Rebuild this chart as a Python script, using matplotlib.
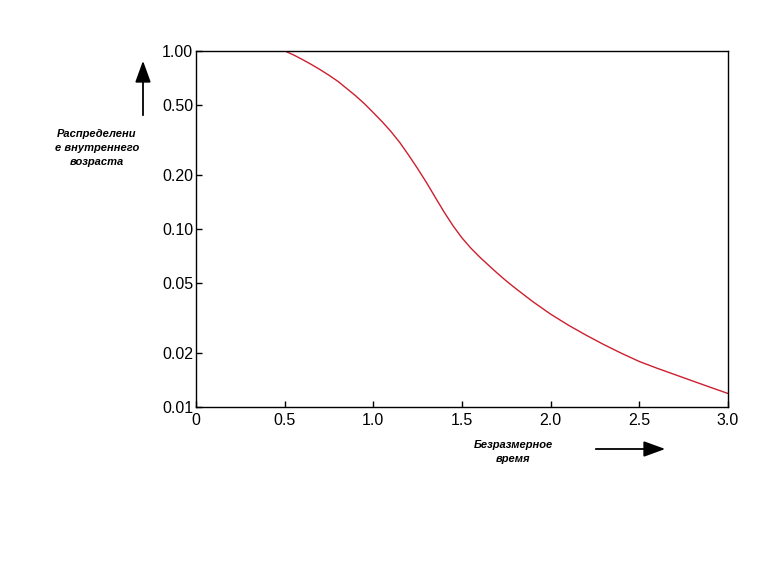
import matplotlib
matplotlib.use("Agg")
import matplotlib.pyplot as plt
from matplotlib.ticker import FixedLocator, NullLocator

plt.rcParams['font.family'] = ['Liberation Sans', 'DejaVu Sans']

# dimensionless time and internal age distribution
t = [0.5, 0.55, 0.6, 0.65, 0.7, 0.75, 0.8, 0.85, 0.9, 0.95, 1.0,
     1.05, 1.1, 1.15, 1.2, 1.25, 1.3, 1.35, 1.4, 1.45, 1.5,
     1.55, 1.6, 1.65, 1.7, 1.75, 1.8, 1.9, 2.0, 2.1, 2.2,
     2.3, 2.4, 2.5, 2.6, 2.7, 2.8, 2.9, 3.0]
age = [1.0, 0.95, 0.895, 0.84, 0.785, 0.73, 0.675, 0.615, 0.56, 0.505, 0.45,
       0.40, 0.352, 0.305, 0.259, 0.218, 0.182, 0.150, 0.124, 0.104, 0.089,
       0.078, 0.0695, 0.0625, 0.0563, 0.0510, 0.0465, 0.0390, 0.0332, 0.0288, 0.0253,
       0.0224, 0.0200, 0.0180, 0.0165, 0.0152, 0.0140, 0.0129, 0.0119]

yticks = [1.0, 0.5, 0.2, 0.1, 0.05, 0.02, 0.01]
ylabels = ["1.00", "0.50", "0.20", "0.10", "0.05", "0.02", "0.01"]
xticks = [0, 0.5, 1.0, 1.5, 2.0, 2.5, 3.0]
xlabels = ["0", "0.5", "1.0", "1.5", "2.0", "2.5", "3.0"]

fig = plt.figure(figsize=(7.84, 5.66), dpi=100)
ax = fig.add_axes([0.25, 0.281, 0.6786, 0.629])

ax.plot(t, age, color="#cc1f2f", lw=1.0)

ax.set_yscale("log")
ax.set_xlim(0, 3.0)
ax.set_ylim(0.01, 1.0)
ax.yaxis.set_major_locator(FixedLocator(yticks))
ax.yaxis.set_minor_locator(NullLocator())
ax.set_yticklabels(ylabels)
ax.set_xticks(xticks)
ax.set_xticklabels(xlabels)
ax.tick_params(direction="in", length=4, width=1, labelsize=11.5, pad=2)
ax.tick_params(axis="x", pad=4)

for s in ax.spines.values():
    s.set_linewidth(1.0)

# axis captions with arrows
fig.text(97 / 784, 1 - 148 / 566, "Распределени\nе внутреннего\nвозраста",
         ha="center", va="center", fontsize=8, fontweight="bold",
         fontstyle="italic", linespacing=1.45)
fig.text(513 / 784, 1 - 452 / 566, "Безразмерное\nвремя",
         ha="center", va="center", fontsize=8, fontweight="bold",
         fontstyle="italic", linespacing=1.45)

arrow = "-|>,head_length=1.1,head_width=0.4"
fig.patches.append(matplotlib.patches.FancyArrowPatch(
    (143 / 784, 1 - 118 / 566), (143 / 784, 1 - 58 / 566),
    transform=fig.transFigure, arrowstyle=arrow,
    mutation_scale=12, color="black", lw=1.3))
fig.patches.append(matplotlib.patches.FancyArrowPatch(
    (593 / 784, 1 - 449 / 566), (668 / 784, 1 - 449 / 566),
    transform=fig.transFigure, arrowstyle=arrow,
    mutation_scale=12, color="black", lw=1.3))

fig.savefig("out.png", dpi=100)
